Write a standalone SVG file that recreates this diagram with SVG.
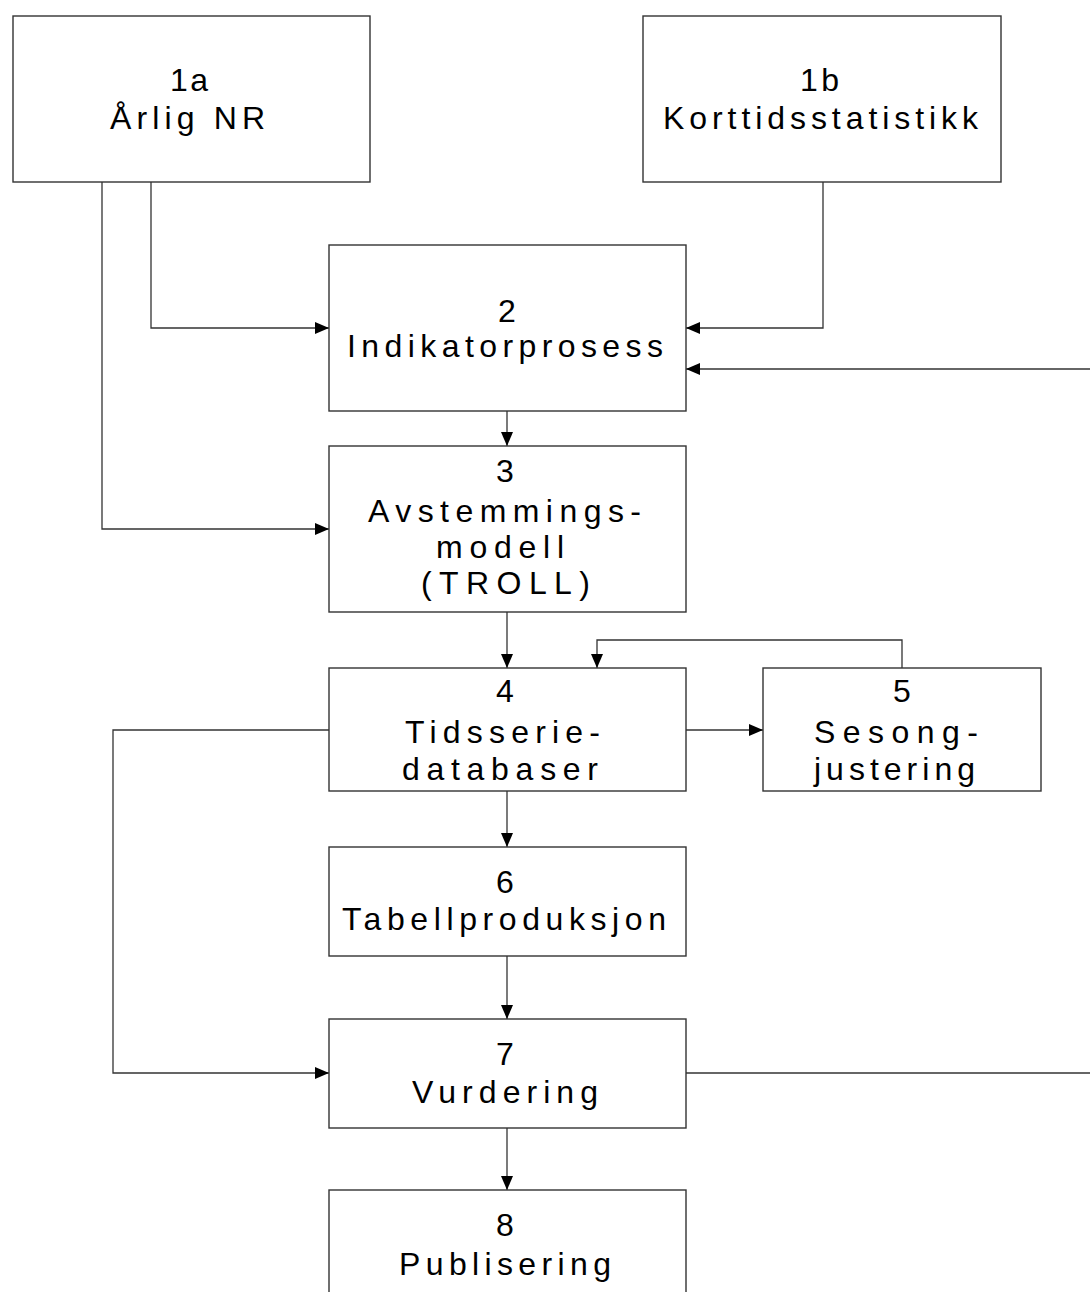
<svg xmlns="http://www.w3.org/2000/svg" width="1090" height="1292" viewBox="0 0 1090 1292">
<style>
.box{fill:#fff;stroke:#333;stroke-width:1.4}
.t{font-family:"Liberation Sans",Arial,sans-serif;font-size:32px;fill:#000;text-anchor:middle}
.c{fill:none;stroke:#333;stroke-width:1.3}
</style>
<defs>
<marker id="ah" markerUnits="userSpaceOnUse" markerWidth="15" markerHeight="12" refX="14" refY="6" orient="auto">
<path d="M0,0 L14,6 L0,12 z" fill="#000"/>
</marker>
</defs>
<rect width="1090" height="1292" fill="#fff"/>
<g id="connectors">
<path class="c" d="M151,182 V328 H329" marker-end="url(#ah)"/>
<path class="c" d="M102,182 V529 H329" marker-end="url(#ah)"/>
<path class="c" d="M823,182 V328 H686" marker-end="url(#ah)"/>
<path class="c" d="M1090,369 H686" marker-end="url(#ah)"/>
<path class="c" d="M507,411 V446" marker-end="url(#ah)"/>
<path class="c" d="M507,612 V668" marker-end="url(#ah)"/>
<path class="c" d="M902,668 V640 H597 V668" marker-end="url(#ah)"/>
<path class="c" d="M686,730 H763" marker-end="url(#ah)"/>
<path class="c" d="M329,730 H113 V1073 H329" marker-end="url(#ah)"/>
<path class="c" d="M507,791 V847" marker-end="url(#ah)"/>
<path class="c" d="M507,956 V1019" marker-end="url(#ah)"/>
<path class="c" d="M686,1073 H1090"/>
<path class="c" d="M507,1128 V1190" marker-end="url(#ah)"/>
</g>
<g id="n1a">
<rect class="box" x="13" y="16" width="357" height="166"/>
<text class="t" x="189" y="91" textLength="38" lengthAdjust="spacing">1a</text>
<text class="t" x="187.5" y="129" textLength="155" lengthAdjust="spacing">Årlig NR</text>
</g>
<g id="n1b">
<rect class="box" x="643" y="16" width="358" height="166"/>
<text class="t" x="819.5" y="91" textLength="39" lengthAdjust="spacing">1b</text>
<text class="t" x="820.5" y="129" textLength="315" lengthAdjust="spacing">Korttidsstatistikk</text>
</g>
<g id="n2">
<rect class="box" x="329" y="245" width="357" height="166"/>
<text class="t" x="507" y="322">2</text>
<text class="t" x="505" y="357" textLength="316" lengthAdjust="spacing">Indikatorprosess</text>
</g>
<g id="n3">
<rect class="box" x="329" y="446" width="357" height="166"/>
<text class="t" x="505" y="482">3</text>
<text class="t" x="504.5" y="522" textLength="273" lengthAdjust="spacing">Avstemmings-</text>
<text class="t" x="500" y="558" textLength="128" lengthAdjust="spacing">modell</text>
<text class="t" x="505.5" y="594" textLength="169" lengthAdjust="spacing">(TROLL)</text>
</g>
<g id="n4">
<rect class="box" x="329" y="668" width="357" height="123"/>
<text class="t" x="505" y="702">4</text>
<text class="t" x="502.5" y="743" textLength="195" lengthAdjust="spacing">Tidsserie-</text>
<text class="t" x="500" y="780" textLength="196" lengthAdjust="spacing">databaser</text>
</g>
<g id="n5">
<rect class="box" x="763" y="668" width="278" height="123"/>
<text class="t" x="902" y="702">5</text>
<text class="t" x="896" y="743" textLength="164" lengthAdjust="spacing">Sesong-</text>
<text class="t" x="894.5" y="780" textLength="161" lengthAdjust="spacing">justering</text>
</g>
<g id="n6">
<rect class="box" x="329" y="847" width="357" height="109"/>
<text class="t" x="505" y="893">6</text>
<text class="t" x="504" y="930" textLength="324" lengthAdjust="spacing">Tabellproduksjon</text>
</g>
<g id="n7">
<rect class="box" x="329" y="1019" width="357" height="109"/>
<text class="t" x="505" y="1065">7</text>
<text class="t" x="505" y="1103" textLength="186" lengthAdjust="spacing">Vurdering</text>
</g>
<g id="n8">
<rect class="box" x="329" y="1190" width="357" height="120"/>
<text class="t" x="505" y="1236">8</text>
<text class="t" x="505" y="1275" textLength="212" lengthAdjust="spacing">Publisering</text>
</g>
</svg>
